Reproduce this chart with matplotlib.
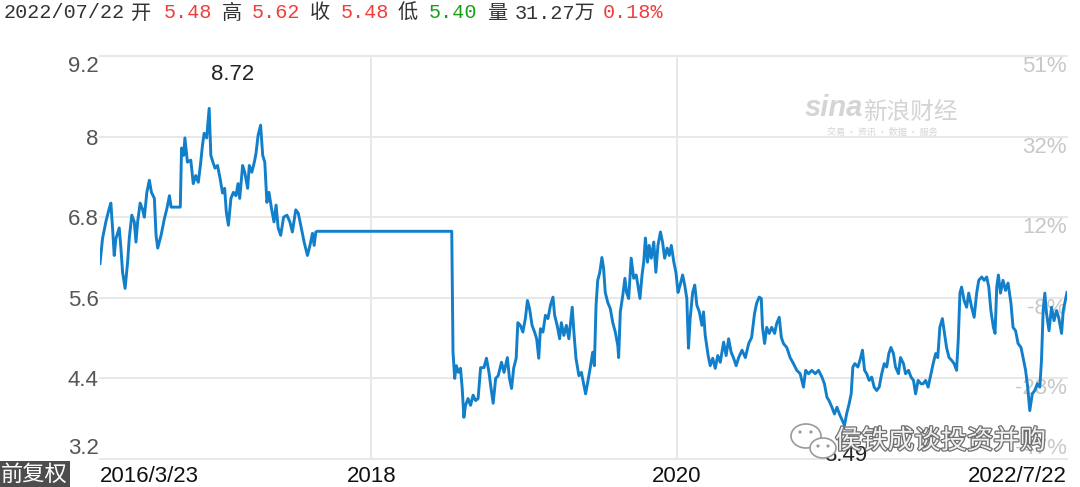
import matplotlib.pyplot as plt
import matplotlib.transforms as mtransforms
import matplotlib.patheffects as pe
from matplotlib.patches import Ellipse, Circle
import pandas as pd

plt.rcParams['font.family'] = ['Liberation Sans', 'Noto Sans CJK SC', 'DejaVu Sans']

START = '2016-03-23'
END = '2022-07-22'

# closes before the long suspension (days after START)
days_a = [0, 6, 14, 22, 26, 30, 34, 38, 46, 50, 54, 60, 66, 70, 76, 82, 86, 90, 96, 102,
          106, 112, 118, 123, 130, 134, 138, 146, 154, 160, 166, 170, 192, 195, 200, 203, 209, 217, 223, 229,
          235, 240, 245, 249, 255, 261, 265, 270, 275, 281, 287, 293, 298, 302, 307, 313, 319, 325, 330, 334,
          341, 346, 353, 357, 363, 369, 373, 378, 384, 389, 394, 399, 404, 410, 416, 421, 426, 432, 439, 447,
          454, 460, 468, 474, 480, 488, 496, 502, 508, 512, 516, 520, 841]
close_a = [6.11, 6.48, 6.73, 6.93, 7.01, 6.64, 6.23, 6.48, 6.64, 6.34, 5.98, 5.74, 6.13, 6.49, 6.83, 6.73, 6.43, 6.73, 7.01, 6.91,
           6.80, 7.17, 7.35, 7.17, 7.08, 6.53, 6.34, 6.53, 6.78, 6.93, 7.12, 6.95, 6.95, 7.83, 7.72, 7.98, 7.62, 7.65, 7.30, 7.42,
           7.32, 7.57, 7.87, 8.05, 7.98, 8.42, 7.72, 7.62, 7.53, 7.57, 7.38, 7.16, 7.23, 6.88, 6.68, 7.08, 7.17, 7.12, 7.30, 7.08,
           7.57, 7.47, 7.23, 7.57, 7.47, 7.62, 7.75, 8.02, 8.17, 7.72, 7.62, 7.02, 7.17, 6.93, 6.73, 6.98, 6.64, 6.53, 6.80, 6.83,
           6.73, 6.58, 6.91, 6.86, 6.68, 6.43, 6.23, 6.38, 6.56, 6.38, 6.58, 6.59, 6.59]

# after resumption, 2018 - 2020
days_b = [844, 848, 852, 857, 862, 866, 870, 874, 880, 886, 892, 898, 904, 910, 918, 924, 930, 935, 940, 946,
          952, 960, 966, 974, 979, 984, 989, 995, 999, 1005, 1011, 1017, 1022, 1027, 1033, 1039, 1044, 1049, 1053, 1059,
          1065, 1071, 1077, 1083, 1087, 1093, 1099, 1103, 1109, 1115, 1121, 1129, 1133, 1138, 1145, 1151, 1157, 1161, 1166, 1173,
          1178, 1182, 1186, 1190, 1195, 1200, 1204, 1208, 1214, 1220, 1226, 1232, 1238, 1240, 1244, 1250, 1255, 1259, 1264, 1270,
          1276, 1282, 1286, 1291, 1296, 1300, 1304, 1309, 1313, 1318, 1324, 1329, 1334, 1340, 1345, 1350, 1356, 1361, 1366, 1372,
          1377, 1382, 1387, 1393, 1398, 1403, 1407, 1411, 1417, 1422, 1427, 1433, 1439, 1443, 1447, 1454, 1459, 1465, 1471, 1477,
          1483, 1491, 1497, 1503, 1509, 1515, 1521]
close_b = [4.79, 4.40, 4.59, 4.49, 4.55, 4.25, 3.82, 4.00, 4.10, 4.00, 4.15, 4.07, 4.10, 4.56, 4.56, 4.70, 4.49, 4.25, 4.03, 4.40,
           4.44, 4.64, 4.49, 4.71, 4.40, 4.25, 4.55, 4.70, 5.23, 5.19, 5.09, 5.29, 5.56, 5.44, 5.19, 5.09, 4.99, 4.70, 5.14, 5.09,
           5.34, 5.29, 5.49, 5.61, 5.34, 5.19, 4.99, 5.23, 5.04, 5.19, 4.99, 5.46, 5.09, 4.70, 4.44, 4.49, 4.30, 4.17, 4.34, 4.59,
           4.79, 4.59, 5.49, 5.86, 5.98, 6.20, 6.04, 5.68, 5.53, 5.44, 5.23, 5.09, 4.89, 4.71, 5.39, 5.64, 5.89, 5.68, 5.59, 6.19,
           5.89, 5.94, 5.79, 5.59, 5.94, 6.13, 6.49, 6.13, 6.38, 6.19, 6.43, 5.98, 6.38, 6.58, 6.43, 6.19, 6.34, 6.23, 6.38, 6.13,
           5.98, 5.68, 5.79, 5.94, 5.79, 5.59, 4.85, 5.29, 5.68, 5.79, 5.49, 5.39, 5.19, 5.39, 5.04, 4.74, 4.59, 4.70, 4.55, 4.74,
           4.64, 4.94, 4.74, 4.99, 4.79, 4.70, 4.59]

# 2020 - 2022/7/22
days_c = [1527, 1535, 1543, 1551, 1558, 1565, 1570, 1576, 1581, 1584, 1589, 1594, 1600, 1606, 1613, 1618, 1624, 1629, 1634, 1642,
          1650, 1658, 1666, 1674, 1682, 1687, 1694, 1702, 1710, 1718, 1726, 1732, 1738, 1743, 1750, 1756, 1762, 1768, 1773, 1780,
          1785, 1791, 1796, 1800, 1805, 1812, 1817, 1823, 1828, 1833, 1839, 1845, 1851, 1857, 1863, 1869, 1875, 1881, 1886, 1891,
          1897, 1902, 1909, 1914, 1921, 1926, 1933, 1939, 1945, 1950, 1956, 1963, 1968, 1974, 1980, 1987, 1992, 1998, 2003, 2008,
          2014, 2019, 2024, 2030, 2036, 2042, 2048, 2052, 2056, 2060, 2066, 2072, 2077, 2084, 2090, 2096, 2101, 2108, 2114, 2120,
          2125, 2130, 2136, 2140, 2144, 2148, 2153, 2159, 2165, 2171, 2178, 2183, 2189, 2195, 2202, 2207, 2213, 2218, 2223, 2229,
          2235, 2241, 2247, 2251, 2255, 2259, 2263, 2269, 2275, 2281, 2287, 2292, 2299, 2303, 2312]
close_c = [4.71, 4.82, 4.71, 4.92, 5.01, 5.37, 5.52, 5.61, 5.59, 5.16, 4.92, 5.16, 5.07, 5.16, 5.07, 5.22, 5.31, 5.01, 4.92, 4.86,
           4.71, 4.62, 4.52, 4.47, 4.27, 4.52, 4.47, 4.52, 4.47, 4.52, 4.42, 4.32, 4.12, 4.07, 3.97, 3.87, 3.97, 3.87, 3.80, 3.70,
           3.87, 4.02, 4.17, 4.57, 4.62, 4.57, 4.67, 4.82, 4.52, 4.47, 4.37, 4.42, 4.27, 4.22, 4.27, 4.47, 4.62, 4.57, 4.77, 4.86,
           4.77, 4.57, 4.47, 4.71, 4.62, 4.47, 4.52, 4.42, 4.37, 4.17, 4.37, 4.32, 4.32, 4.37, 4.27, 4.47, 4.62, 4.77, 4.71, 5.16,
           5.29, 5.07, 4.86, 4.71, 4.67, 4.62, 4.52, 4.97, 5.67, 5.76, 5.56, 5.46, 5.67, 5.46, 5.31, 5.67, 5.86, 5.91, 5.86, 5.91,
           5.76, 5.41, 5.16, 5.07, 5.76, 5.94, 5.67, 5.86, 5.71, 5.82, 5.52, 5.16, 5.11, 4.92, 4.86, 4.71, 4.52, 4.27, 3.92, 4.17,
           4.22, 4.32, 4.27, 4.67, 5.41, 5.67, 5.37, 5.11, 5.46, 5.26, 5.41, 5.31, 5.07, 5.41, 5.68]

y_ticks = [3.2, 4.4, 5.6, 6.8, 8.0, 9.2]
y_labels = ['3.2', '4.4', '5.6', '6.8', '8', '9.2']
pct_labels = ['-47%', '-28%', '-8%', '12%', '32%', '51%']
x_ticks = [START, '2018-01-01', '2020-01-01', END]
x_labels = ['2016/3/23', '2018', '2020', '2022/7/22']
year_lines = ['2018-01-01', '2020-01-01']

high_label, high_day, high_y = '8.72', 318, 8.92
low_label, low_day, low_y = '3.49', 1782, 3.25

header = [('2022/07/22', '#333333'), ('开', '#333333'), ('5.48', '#f23c3c'), ('高', '#333333'),
          ('5.62', '#f23c3c'), ('收', '#333333'), ('5.48', '#f23c3c'), ('低', '#333333'),
          ('5.40', '#1a9e1a'), ('量', '#333333'), ('31.27万', '#333333'), ('0.18%', '#f23c3c')]
header_x = [4, 131, 164, 222, 252, 310, 341, 398, 429, 487, 515, 603]

days = days_a + days_b + days_c
close = close_a + close_b + close_c
start = pd.Timestamp(START)
dates = start + pd.to_timedelta(days, unit='D')

W, H = 1080, 487
fig = plt.figure(figsize=(W / 100, H / 100), dpi=100)
ax = fig.add_axes([100 / W, 1 - 459 / H, (1067 - 100) / W, (459 - 56) / H])

grid_col = '#e8e8e8'
ax.plot(dates, close, color='#127fca', lw=2.1, zorder=3, solid_joinstyle='round')
ax.set_xlim(start, pd.Timestamp(END))
ax.set_ylim(y_ticks[0], y_ticks[-1])

ax.set_yticks(y_ticks, y_labels)
ax.grid(axis='y', color=grid_col, lw=1.4, zorder=0)
for gl in ax.get_ygridlines():
    gl.set_clip_on(False)
for yr in year_lines:
    ax.axvline(pd.Timestamp(yr), color=grid_col, lw=1.4, zorder=0)

for s in ax.spines.values():
    s.set_visible(False)
ax.tick_params(axis='y', length=0, pad=1, labelsize=16, labelcolor='#555555')
ylabs = ax.get_yticklabels()
ylabs[0].set_va('bottom')
ylabs[-1].set_va('top')

ax.set_xticks([pd.Timestamp(t) for t in x_ticks], x_labels)
ax.tick_params(axis='x', length=0, pad=5, labelsize=16, labelcolor='#111111')
xlabs = ax.get_xticklabels()
xlabs[0].set_ha('left')
xlabs[-1].set_ha('right')

# right-hand percent scale (drawn under the line)
trans = mtransforms.blended_transform_factory(ax.transAxes, ax.transData)
for i, (yv, lbl) in enumerate(zip(y_ticks, pct_labels)):
    ax.text(1.0, yv, lbl, transform=trans, ha='right', va='bottom' if i == 0 else 'top',
            fontsize=16, color='#c8c8c8', zorder=1)

ax.text(start + pd.Timedelta(days=high_day), high_y, high_label, ha='center', va='center',
        fontsize=16, color='#222222', zorder=4)
ax.text(start + pd.Timedelta(days=low_day), low_y, low_label, ha='center', va='center',
        fontsize=16, color='#222222', zorder=4, clip_on=False)

# quote header
for (txt, col), px in zip(header, header_x):
    fig.text(px / W, 1 - 13 / H, txt, ha='left', va='center', fontsize=14.5, color=col,
             family=['Liberation Mono', 'Noto Sans CJK SC'])

# 前复权 tag
fig.text(1 / W, 1 - 474 / H, '前复权', ha='left', va='center', fontsize=16, color='white',
         family=['Noto Sans CJK SC'],
         bbox=dict(facecolor='#4d4d4d', edgecolor='none', pad=1.5))

# sina watermark
fig.text(805 / W, 1 - 108 / H, 'sina', ha='left', va='center', fontsize=21, color='#d4d4d4',
         style='italic', weight='bold')
fig.text(863 / W, 1 - 112 / H, '新浪财经', ha='left', va='center', fontsize=17, color='#d4d4d4',
         family=['Noto Sans CJK SC'])
fig.text(827 / W, 1 - 132 / H, '交易 · 资讯 · 数据 · 服务', ha='left', va='center', fontsize=6.5,
         color='#d4d4d4', family=['Noto Sans CJK SC'])

# wechat watermark
inch = fig.dpi_scale_trans
for cx, cy, w, h in [(806, 436, 30, 24), (823, 448, 26, 20)]:
    fig.add_artist(Ellipse((cx / 100, (H - cy) / 100), w / 100, h / 100, transform=inch,
                           facecolor='white', edgecolor='#9a9a9a', lw=1.2, zorder=5))
for cx, cy in [(800, 432), (811, 432), (818, 446), (828, 446)]:
    fig.add_artist(Circle((cx / 100, (H - cy) / 100), 1.6 / 100, transform=inch,
                          facecolor='#9a9a9a', edgecolor='none', zorder=6))
fig.text(835 / W, 1 - 441 / H, '侯铁成谈投资并购', ha='left', va='center', fontsize=19,
         color='#f2f2f2', family=['Noto Sans CJK SC'], zorder=6,
         path_effects=[pe.withStroke(linewidth=1.8, foreground='#6e6e6e')])

fig.savefig('out.png', dpi=100)
